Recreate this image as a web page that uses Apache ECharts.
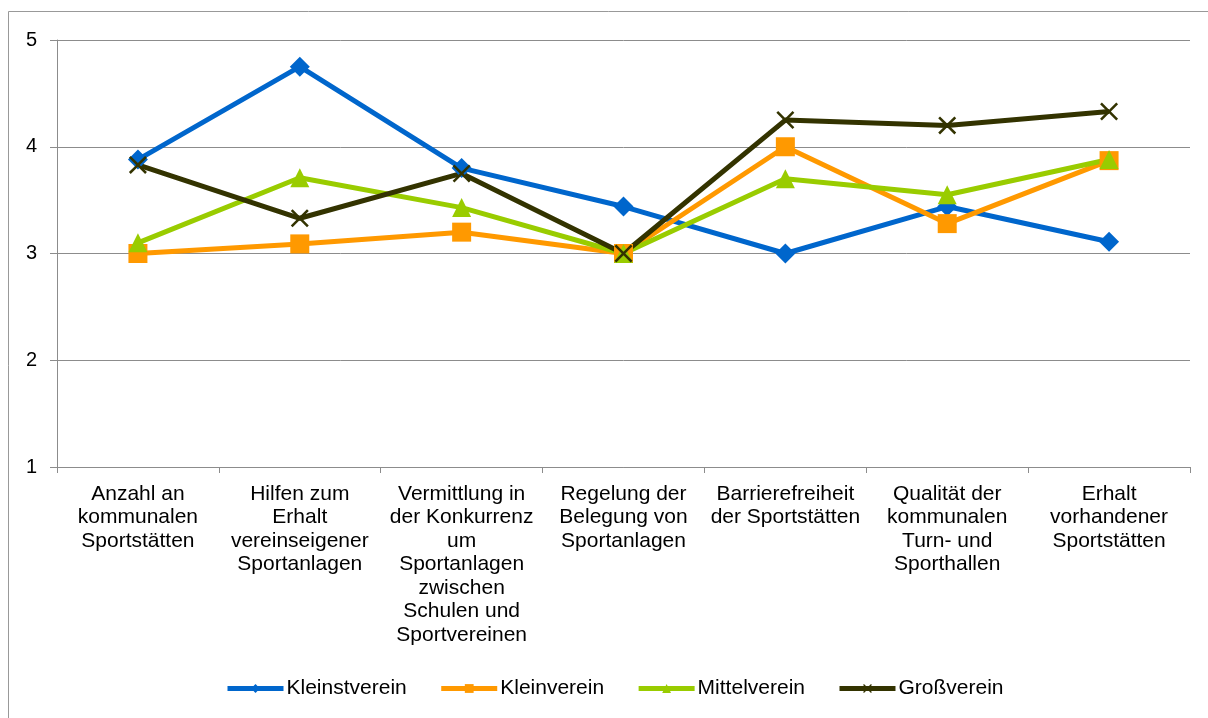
<!DOCTYPE html>
<html>
<head>
<meta charset="utf-8">
<script src="https://cdn.jsdelivr.net/npm/echarts@6/dist/echarts.min.js"></script>
<style>
  html, body { margin: 0; padding: 0; background: #fff; }
  #main { width: 1208px; height: 718px; }
</style>
</head>
<body>
<div id="main"></div>
<script>
// Kategorien (x-Achse)
var categories = [
  'Anzahl an\nkommunalen\nSportstätten',
  'Hilfen zum\nErhalt\nvereinseigener\nSportanlagen',
  'Vermittlung in\nder Konkurrenz\num\nSportanlagen\nzwischen\nSchulen und\nSportvereinen',
  'Regelung der\nBelegung von\nSportanlagen',
  'Barrierefreiheit\nder Sportstätten',
  'Qualität der\nkommunalen\nTurn- und\nSporthallen',
  'Erhalt\nvorhandener\nSportstätten'
];

// Werte je Vereinsgröße
var kleinstverein = [3.88, 4.75, 3.80, 3.44, 3.00, 3.44, 3.11];
var kleinverein   = [3.00, 3.09, 3.20, 3.00, 4.00, 3.28, 3.87];
var mittelverein  = [3.10, 3.71, 3.43, 3.00, 3.70, 3.55, 3.88];
var grossverein   = [3.83, 3.33, 3.75, 3.00, 4.25, 4.20, 4.33];

var crossPath = 'path://M0,1L1,0L5,4L9,0L10,1L6,5L10,9L9,10L5,6L1,10L0,9L4,5Z';

var chart = echarts.init(document.getElementById('main'));

function makeSeries(name, data, color, symbol, size) {
  return {
    name: name,
    type: 'line',
    data: data,
    symbol: symbol,
    symbolSize: size,
    lineStyle: { color: color, width: 5 },
    itemStyle: { color: color },
    emphasis: { disabled: true },
    animation: false
  };
}

chart.setOption({
  backgroundColor: '#fff',
  textStyle: { fontFamily: 'Liberation Sans, Arial, sans-serif' },
  graphic: [{
    type: 'rect',
    x: 8.5, y: 11.5,
    shape: { width: 1400, height: 900 },
    style: { fill: 'none', stroke: '#999', lineWidth: 1 },
    silent: true
  }],
  grid: { left: 57, right: 18, top: 40, bottom: 251 },
  legend: {
    bottom: 14,
    left: 220,
    itemWidth: 56,
    itemHeight: 11,
    itemGap: 32,
    lineStyle: { width: 5 },
    textStyle: { fontSize: 21, color: '#000', fontFamily: 'Liberation Sans, Arial, sans-serif', padding: [0, 0, 0, -2] },
    data: ['Kleinstverein', 'Kleinverein', 'Mittelverein', 'Großverein']
  },
  xAxis: {
    type: 'category',
    data: categories,
    boundaryGap: true,
    axisLine: { lineStyle: { color: '#8c8c8c', width: 1 } },
    axisTick: { show: true, length: 6, lineStyle: { color: '#8c8c8c' } },
    axisLabel: {
      color: '#000', fontSize: 21, lineHeight: 23.5, margin: 15,
      interval: 0, align: 'center'
    }
  },
  yAxis: {
    type: 'value',
    min: 1, max: 5, interval: 1,
    axisLine: { show: true, lineStyle: { color: '#8c8c8c', width: 1 } },
    axisTick: { show: true, length: 7, lineStyle: { color: '#8c8c8c' } },
    splitLine: { show: true, lineStyle: { color: '#8c8c8c', width: 1 } },
    axisLabel: { color: '#000', fontSize: 20, margin: 20 }
  },
  series: [
    makeSeries('Kleinstverein', kleinstverein, '#0066cc', 'diamond', 20),
    makeSeries('Kleinverein', kleinverein, '#ff9900', 'rect', 19),
    makeSeries('Mittelverein', mittelverein, '#99cc00', 'triangle', 19),
    makeSeries('Großverein', grossverein, '#333300', crossPath, 18)
  ]
});
</script>
</body>
</html>
